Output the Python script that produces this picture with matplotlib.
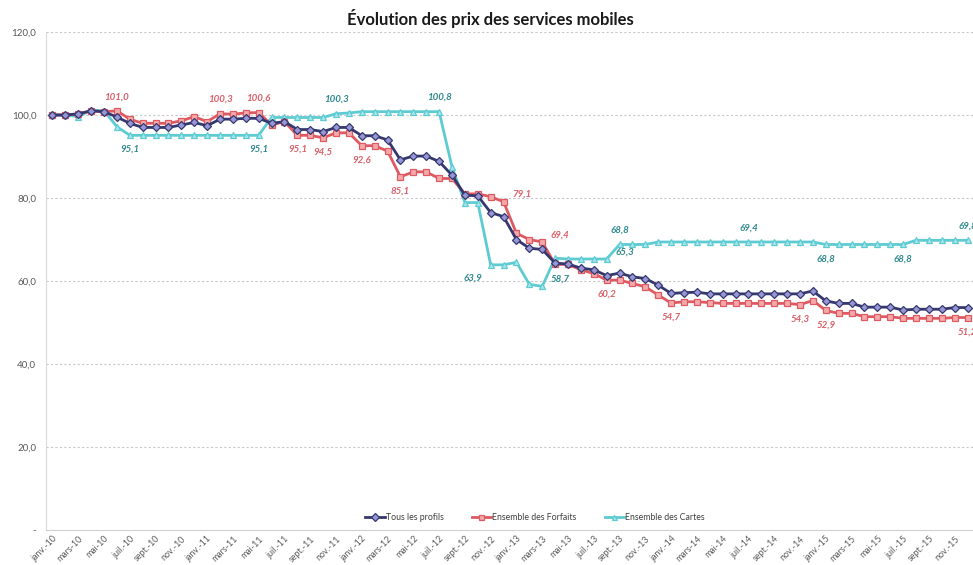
"""
Evolution des prix des services mobiles (indices, base 100 janv.-10)
"""

import numpy as np
import matplotlib.pyplot as plt

plt.rcParams['font.family'] = ['Lato', 'DejaVu Sans']

# 0. Data
month_names = ['janv.', 'févr.', 'mars', 'avr.', 'mai', 'juin',
               'juil.', 'août', 'sept.', 'oct.', 'nov.', 'déc.']
years = ['10', '11', '12', '13', '14', '15']
months = [f"{m}-{y}" for y in years for m in month_names]

tous_profils = [
    100.0, 100.0, 100.3, 101.0, 100.8, 99.5, 98.0, 97.0, 97.0, 97.0, 97.6, 98.2,
    97.4, 99.0, 99.0, 99.2, 99.2, 98.0, 98.4, 96.5, 96.5, 96.0, 97.0, 97.0,
    95.0, 95.0, 94.0, 89.2, 90.1, 90.1, 88.8, 85.5, 80.7, 80.5, 76.5, 75.5,
    70.0, 67.9, 67.6, 64.3, 64.1, 63.1, 62.7, 61.3, 61.9, 61.0, 60.6, 59.0,
    57.0, 57.2, 57.3, 56.9, 56.9, 56.9, 56.9, 56.9, 56.9, 56.9, 56.9, 57.6,
    55.2, 54.6, 54.6, 53.7, 53.7, 53.7, 53.0, 53.2, 53.2, 53.2, 53.6, 53.6,
]
forfaits = [
    100.0, 100.0, 100.2, 101.0, 100.8, 101.0, 99.0, 98.0, 98.0, 98.0, 98.6, 99.6,
    98.4, 100.3, 100.2, 100.5, 100.6, 97.6, 98.4, 95.1, 95.1, 94.5, 95.7, 95.7,
    92.6, 92.6, 91.3, 85.1, 86.3, 86.3, 84.7, 84.7, 81.0, 81.0, 80.3, 79.1,
    71.5, 70.0, 69.4, 64.0, 64.0, 62.7, 61.8, 60.2, 60.2, 59.4, 58.6, 56.6,
    54.7, 55.0, 55.0, 54.8, 54.6, 54.6, 54.6, 54.6, 54.6, 54.6, 54.3, 55.3,
    52.9, 52.2, 52.2, 51.4, 51.4, 51.4, 51.0, 51.0, 51.0, 51.0, 51.2, 51.2,
]
cartes = [
    100.0, 100.0, 99.6, 101.2, 101.0, 97.2, 95.1, 95.1, 95.1, 95.1, 95.1, 95.1,
    95.1, 95.1, 95.1, 95.1, 95.1, 99.4, 99.4, 99.4, 99.4, 99.4, 100.3, 100.5,
    100.8, 100.8, 100.8, 100.8, 100.8, 100.8, 100.8, 87.5, 78.9, 78.9, 63.9, 63.9,
    64.5, 59.2, 58.7, 65.5, 65.3, 65.3, 65.3, 65.3, 68.8, 68.8, 68.8, 69.4,
    69.4, 69.4, 69.4, 69.4, 69.4, 69.4, 69.4, 69.4, 69.4, 69.4, 69.4, 69.4,
    68.8, 68.8, 68.8, 68.8, 68.8, 68.8, 68.8, 69.8, 69.8, 69.8, 69.8, 69.8,
]

# labelled points: (index, position)
forfaits_labels = [(5, 'above'), (13, 'above'), (16, 'above'), (19, 'below'),
                   (21, 'below'), (24, 'below'), (27, 'below'), (35, 'right'),
                   (38, 'right'), (43, 'below'), (48, 'below'), (58, 'below'),
                   (60, 'below'), (71, 'below')]
cartes_labels = [(6, 'below'), (16, 'below'), (22, 'above'), (30, 'above'),
                 (34, 'belowleft'), (38, 'right'), (43, 'right'), (44, 'above'),
                 (54, 'above'), (60, 'below'), (66, 'below'), (71, 'above')]

# 1. Styles
NAVY, NAVY_FILL = '#35386e', '#9696d6'
RED, RED_FILL = '#de5a62', '#f5a9ab'
CYAN, CYAN_FILL = '#5ecbd3', '#a9e6ea'
RED_TXT, CYAN_TXT = '#d9606a', '#2f8a8e'

x = np.arange(len(months))

fig = plt.figure(figsize=(9.73, 5.65), dpi=100)
# category axis: 72 slots of ~12.9 px, right end cropped like the source image
ax = fig.add_axes([46 / 973, 35 / 565, 928 / 973, 498 / 565])

ax.plot(x, tous_profils, color=NAVY, lw=2, marker='D', ms=4.5,
        mfc=NAVY_FILL, mec=NAVY, mew=0.9, label='Tous les profils', zorder=4)
ax.plot(x, forfaits, color=RED, lw=2, marker='s', ms=4.5,
        mfc=RED_FILL, mec=RED, mew=0.9, label='Ensemble des Forfaits', zorder=3)
ax.plot(x, cartes, color=CYAN, lw=2, marker='^', ms=4.5,
        mfc=CYAN_FILL, mec=CYAN, mew=0.9, label='Ensemble des Cartes', zorder=2)

offsets = {'above': (0, 7, 'center', 'bottom'),
           'below': (0, -7, 'center', 'top'),
           'right': (6, 2, 'left', 'bottom'),
           'belowleft': (-6, -6, 'right', 'top')}


def add_labels(series, labels, color):
    for i, pos in labels:
        dx, dy, ha, va = offsets[pos]
        ax.annotate(f"{series[i]:.1f}".replace('.', ','), (x[i], series[i]),
                    xytext=(dx, dy), textcoords='offset points', ha=ha, va=va,
                    fontsize=7, fontstyle='italic', fontweight='bold',
                    color=color, zorder=6, annotation_clip=False)


add_labels(forfaits, forfaits_labels, RED_TXT)
add_labels(cartes, cartes_labels, CYAN_TXT)

# 2. Axes
ax.set_xlim(-0.5, len(months) - 0.5)
ax.set_ylim(0, 120)
yt = np.arange(0, 121, 20)
ax.set_yticks(yt)
ax.set_yticklabels(['-'] + [f"{v:.1f}".replace('.', ',') for v in yt[1:]])
ax.set_xticks(x[::2])
ax.set_xticklabels(months[::2], rotation=45, ha='right', rotation_mode='anchor')
ax.tick_params(axis='both', length=0, labelsize=7, colors='#595959')
ax.tick_params(axis='x', labelsize=6.4, pad=3)
ax.tick_params(axis='y', pad=7)

for v in yt[1:]:
    ax.axhline(v, color='#c8c8c8', lw=0.8, ls=(0, (2, 2)), zorder=0)

for side in ['top', 'right']:
    ax.spines[side].set_visible(False)
ax.spines['left'].set_color('#d9d9d9')
ax.spines['bottom'].set_color('#d0d0d0')

leg = ax.legend(loc='center', bbox_to_anchor=(0.527, 0.025), ncol=3, frameon=False,
                fontsize=6.3, handlelength=2.2, columnspacing=3.2, handletextpad=0.15,
                labelcolor='#404040', markerscale=0.8)

fig.text(490 / 973, 1 - 18 / 565, 'Évolution des prix des services mobiles',
         ha='center', va='center', fontsize=12, fontweight='bold', color='#1a1a1a')

plt.savefig('out.png', dpi=100)
plt.close()
